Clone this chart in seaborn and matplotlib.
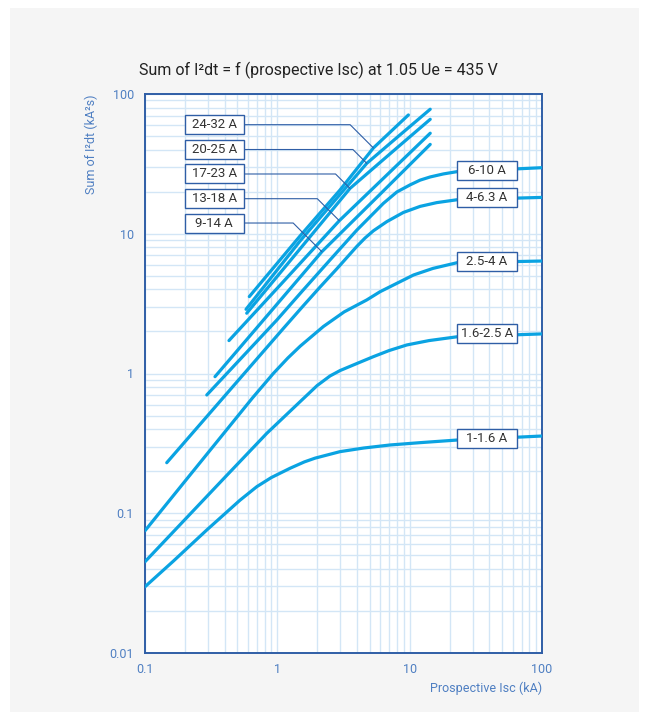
import numpy as np
import pandas as pd
import matplotlib
matplotlib.use("Agg")
import matplotlib.pyplot as plt
from matplotlib.patches import Rectangle
from matplotlib.ticker import LogLocator, FuncFormatter, NullFormatter
import seaborn as sns

sns.set_style("white")
plt.rcParams['font.family'] = ['Roboto', 'DejaVu Sans']

# Prospective Isc (kA) / Sum of I2dt (kA2s)
isc_1_16 = [0.1, 0.164, 0.293, 0.522, 0.7, 0.9, 1.25, 1.6, 1.93, 2.98, 4.5, 7.11, 12, 22.7, 100]
i2t_1_16 = [0.0298, 0.0455, 0.0759, 0.124, 0.155, 0.18, 0.21, 0.233, 0.248, 0.276, 0.293,
            0.308, 0.32, 0.334, 0.357]

isc_16_25 = [0.1, 0.2, 0.4, 0.832, 1.5, 2.0, 2.5, 2.98, 4.0, 5.32, 7.0, 9.51, 14, 22.7, 100]
i2t_16_25 = [0.045, 0.09, 0.18, 0.373, 0.634, 0.82, 0.96, 1.05, 1.18, 1.32, 1.46, 1.60, 1.72,
             1.83, 1.92]

isc_25_4 = [0.1, 0.2, 0.4, 0.65, 0.932, 1.2, 1.49, 2.23, 3.2, 4.74, 5.98, 10.7, 15, 22.7, 100]
i2t_25_4 = [0.075, 0.169, 0.38, 0.67, 1.0, 1.29, 1.57, 2.17, 2.76, 3.36, 3.85, 5.07, 5.65,
            6.2, 6.38]

isc_4_63 = [0.146, 1.11, 1.57, 2.10, 2.81, 3.98, 4.6, 5.32, 6.71, 8.96, 12, 16, 22.7, 100]
i2t_4_63 = [0.230, 2.1, 3.05, 4.15, 5.6, 8.1, 9.32, 10.5, 12.2, 14.2, 15.7, 16.7, 17.5, 18.2]

isc_6_10 = [0.293, 0.99, 1.57, 2.50, 3.98, 6.33, 8.0, 10.1, 12, 14.3, 18, 22.7, 100]
i2t_6_10 = [0.702, 2.41, 3.96, 6.49, 10.6, 16.5, 19.9, 22.4, 24.2, 25.5, 26.8, 27.8, 29.7]

isc_9_14 = [0.338, 0.881, 2.17, 5.98, 14.3]
i2t_9_14 = [0.949, 2.74, 7.44, 19.2, 43.6]

isc_13_18 = [0.431, 1.05, 2.94, 7.11, 14.3]
i2t_13_18 = [1.72, 4.29, 12.4, 27.7, 52.4]

isc_17_23 = [0.587, 1.485, 3.54, 7.76, 14.3]
i2t_17_23 = [2.70, 7.80, 21.1, 40.1, 65.9]

isc_20_25 = [0.58, 1.485, 4.74, 8.46, 14.3]
i2t_20_25 = [2.88, 8.87, 31.9, 51.0, 77.8]

isc_24_32 = [0.614, 1.485, 2.98, 5.32, 9.78]
i2t_24_32 = [3.55, 9.64, 20.6, 41.1, 70.8]

# labels placed on the left with leader lines, and the point on the curve they point to
left_labels = ["24-32 A", "20-25 A", "17-23 A", "13-18 A", "9-14 A"]
left_targets = [(5.32, 41.1), (4.74, 31.9), (3.54, 21.1), (2.94, 12.4), (2.17, 7.44)]
# labels sitting on the curves at the right
right_labels = ["6-10 A", "4-6.3 A", "2.5-4 A", "1.6-2.5 A", "1-1.6 A"]

x_ticks = [0.1, 1, 10, 100]
y_ticks = [0.01, 0.1, 1, 10, 100]

curves = {
    "1-1.6 A": (isc_1_16, i2t_1_16),
    "1.6-2.5 A": (isc_16_25, i2t_16_25),
    "2.5-4 A": (isc_25_4, i2t_25_4),
    "4-6.3 A": (isc_4_63, i2t_4_63),
    "6-10 A": (isc_6_10, i2t_6_10),
    "9-14 A": (isc_9_14, i2t_9_14),
    "13-18 A": (isc_13_18, i2t_13_18),
    "17-23 A": (isc_17_23, i2t_17_23),
    "20-25 A": (isc_20_25, i2t_20_25),
    "24-32 A": (isc_24_32, i2t_24_32),
}
rows = []
for name, (xs, ys) in curves.items():
    for xv, yv in zip(xs, ys):
        rows.append({"rating": name, "Isc": xv, "I2t": yv})
df = pd.DataFrame(rows)

LINE = "#0aa3e2"
FRAME = "#2f5ea6"
TICK = "#4f7fc2"
GRID = "#d3e6f6"
BOXTXT = "#333333"

fig = plt.figure(figsize=(6.49, 7.2), dpi=100, facecolor="white")
fig.patches.append(Rectangle((10 / 649, 8 / 720), 629 / 649, 704 / 720,
                             transform=fig.transFigure, facecolor="#f5f5f5",
                             edgecolor="none", zorder=-10))
ax = fig.add_axes([145 / 649, 1 - 653 / 720, 397 / 649, 559 / 720])
ax.set_facecolor("white")

sns.lineplot(data=df, x="Isc", y="I2t", units="rating", estimator=None, sort=False,
             color=LINE, linewidth=2.3, ax=ax, legend=False, zorder=3)

ax.set_xscale("log")
ax.set_yscale("log")
ax.set_xlim(0.1, 100)
ax.set_ylim(0.01, 100)
ax.set_xticks(x_ticks)
ax.set_yticks(y_ticks)
fmt = FuncFormatter(lambda v, _: f"{v:g}")
ax.xaxis.set_major_formatter(fmt)
ax.yaxis.set_major_formatter(fmt)
ax.xaxis.set_minor_locator(LogLocator(base=10, subs=np.arange(2, 10)))
ax.yaxis.set_minor_locator(LogLocator(base=10, subs=np.arange(2, 10)))
ax.xaxis.set_minor_formatter(NullFormatter())
ax.yaxis.set_minor_formatter(NullFormatter())
ax.tick_params(which="both", length=0, colors=TICK, labelsize=9)
ax.tick_params(axis="x", pad=7)
ax.tick_params(axis="y", pad=8)
ax.grid(which="both", color=GRID, linewidth=1.0)
ax.set_axisbelow(True)
for s in ax.spines.values():
    s.set_color(FRAME)
    s.set_linewidth(1.4)

ax.set_xlabel("Prospective Isc (kA)", color=TICK, fontsize=9, loc="right")
ax.xaxis.set_label_coords(1.0, -0.052)
ax.set_ylabel("Sum of I²dt (kA²s)", color=TICK, fontsize=9, loc="top")
ax.yaxis.set_label_coords(-0.118, 1.0)

fig.text(0.49, 1 - 70 / 720, "Sum of I²dt = f (prospective Isc) at 1.05 Ue = 435 V",
         ha="center", va="center", fontsize=11.5, color="#222222")

# label boxes, positions in axes fraction
bw_left, bw_right, bh = 0.1486, 0.1511, 0.034
left_x0 = 0.100
left_yc = [0.9451, 0.9007, 0.8569, 0.8127, 0.7692]
right_x0 = 0.7851
right_yc = [0.8640, 0.8140, 0.7000, 0.5707, 0.3846]


def label_box(x0, yc, w, text):
    ax.add_patch(Rectangle((x0, yc - bh / 2), w, bh, transform=ax.transAxes,
                           facecolor="white", edgecolor=FRAME, linewidth=1.0, zorder=5))
    ax.text(x0 + w / 2, yc, text, transform=ax.transAxes, ha="center", va="center",
            fontsize=9.5, color=BOXTXT, zorder=6)


for text, yc, tgt in zip(left_labels, left_yc, left_targets):
    label_box(left_x0, yc, bw_left, text)
    ax.annotate("", xy=tgt, xycoords="data", xytext=(left_x0 + bw_left, yc),
                textcoords="axes fraction",
                arrowprops=dict(arrowstyle="-", color=FRAME, lw=0.8, shrinkA=0, shrinkB=0,
                                connectionstyle="angle,angleA=0,angleB=-45,rad=0"),
                zorder=4)

for text, yc in zip(right_labels, right_yc):
    label_box(right_x0, yc, bw_right, text)

fig.savefig("out.png", dpi=100, facecolor=fig.get_facecolor())
